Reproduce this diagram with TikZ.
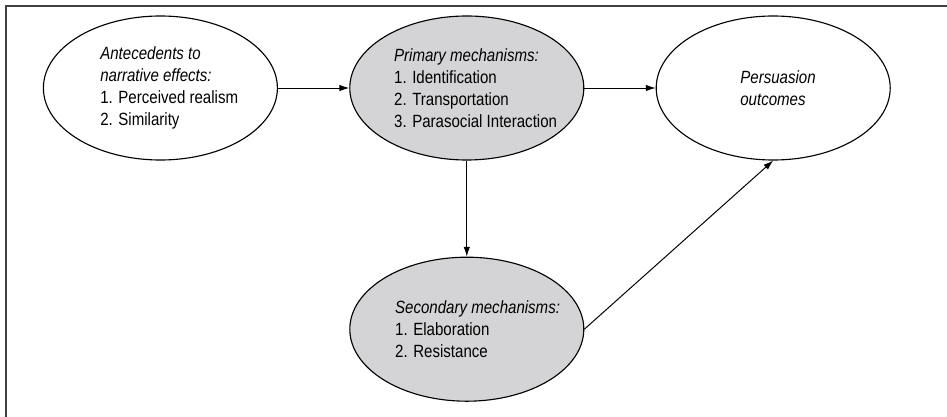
\documentclass[tikz,border=0pt]{standalone}
\usepackage{fontspec}
\setmainfont{Liberation Sans}[FakeStretch=0.85]
\usetikzlibrary{arrows.meta,shapes.geometric}
\definecolor{mechgray}{RGB}{212,212,214}
\tikzset{
    oval/.style = {draw, ellipse, line width=0.8pt,
        minimum width=5.85cm,
        minimum height=3.6cm, inner sep=0pt},
    mech/.style = {oval, fill=mechgray},
    txt/.style = {align=left, font=\fontsize{12.6}{15.6}\selectfont},
    arrow/.style = {draw, -{Latex[length=7pt,width=4.6pt]}, line width=0.7pt},
    frame/.style = {line width=1.3pt, black!75}
}

\begin{document}
\begin{tikzpicture}[auto, node distance=7.66cm]
        \useasboundingbox (0,0) rectangle (23.675,-10.425);
        \draw [frame] (0.14,-10.425) -- (0.14,-0.15) -- (23.675,-0.15);
        \node [oval, label={[txt, xshift=0.22cm]center:{\textit{Antecedents to}\\\textit{narrative effects:}\\1. Perceived realism\\2. Similarity}}] (ante) at (4.01,-2.2) {};
        \node [mech, right of=ante, label={[txt, xshift=0.22cm]center:{\textit{Primary mechanisms:}\\1. Identification\\2. Transportation\\3. Parasocial Interaction}}] (prim) {};
        \draw [arrow] (ante) -- (prim);
        \node [oval, right of=prim, label={[txt, xshift=0.12cm]center:{\textit{Persuasion}\\\textit{outcomes}}}] (out) {};
        \draw [arrow] (prim) -- (out);
        \node [mech, below of=prim, node distance=6.03cm, label={[txt, xshift=0.27cm]center:{\textit{Secondary mechanisms:}\\1. Elaboration\\2. Resistance}}] (sec) {};
        \draw [arrow] (prim) -- (sec);
        \draw [arrow] (sec.east) -- (out.south);
    \end{tikzpicture}
\end{document}
